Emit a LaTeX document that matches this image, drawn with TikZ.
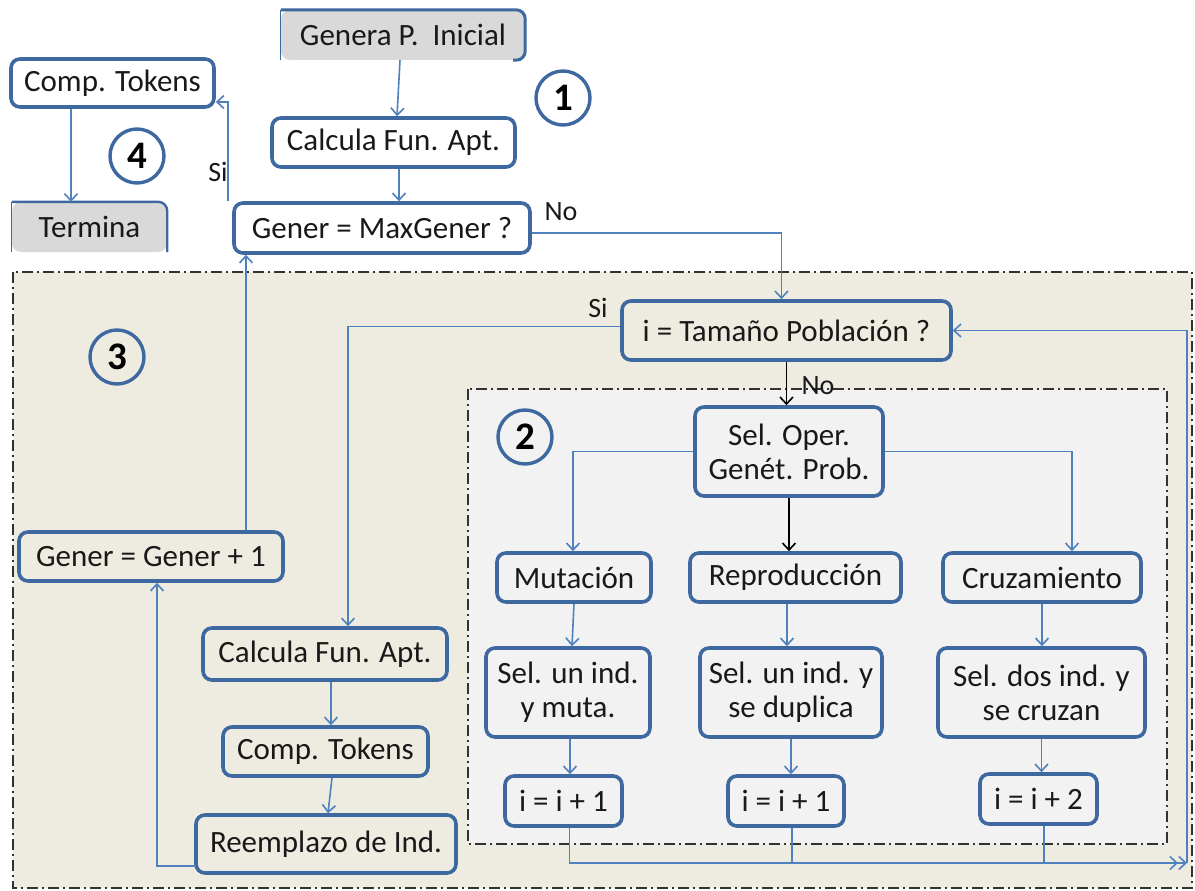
\documentclass[tikz,border=0pt]{standalone}
\usepackage{fontspec}
\setmainfont{Carlito}
\usetikzlibrary{arrows.meta}

\definecolor{boxblue}{RGB}{61,104,160}
\definecolor{lineblue}{RGB}{79,129,189}
\definecolor{tanbg}{RGB}{238,236,225}
\definecolor{innerbg}{RGB}{242,242,242}
\definecolor{startgray}{RGB}{217,217,217}
\definecolor{framegray}{RGB}{50,50,50}
\definecolor{ink}{RGB}{25,25,25}

\tikzset{
  fbox/.style={draw=boxblue, line width=3.6pt, rounded corners=9pt, inner sep=0pt,
    align=center, text=ink, font=\fontsize{31}{34}\selectfont},
  greybox/.style={fill=startgray, rounded corners=9pt, inner sep=0pt,
    align=center, text=ink, font=\fontsize{31}{34}\selectfont},
  num/.style={circle, draw=boxblue, line width=3.4pt, minimum size=54pt, inner sep=0pt,
    text=black, font=\fontsize{39}{39}\selectfont\bfseries},
  lbl/.style={inner sep=0pt, text=ink, font=\fontsize{28}{30}\selectfont},
  region/.style={draw=framegray, line width=2.4pt,
    dash pattern=on 11pt off 4pt on 2pt off 4pt},
  conn/.style={draw=lineblue, line width=1.6pt, -{Straight Barb[length=7pt,width=13pt]}},
  conndbl/.style={draw=lineblue, line width=1.6pt,
    -{Straight Barb[length=7pt,width=13pt]Straight Barb[length=7pt,width=13pt]}},
  plain/.style={draw=lineblue, line width=1.6pt},
  blk/.style={draw=black, line width=1.6pt, -{Straight Barb[length=7pt,width=13pt]}},
}

\begin{document}
\begin{tikzpicture}[x=1pt,y=-1pt]
\useasboundingbox (0,0) rectangle (1195,891);
\fill[white] (0,0) rectangle (1195,891);

% grouped areas
\draw[region, fill=tanbg] (13,272) rectangle (1192,888);
\draw[region, fill=innerbg] (468,389) rectangle (1167,844);

% step numbers
\node[num] (c1) at (563,98) {1};
\node[num] (c4) at (137,156) {4};
\node[num] (c3) at (117,357) {3};
\node[num] (c2) at (525,437) {2};

% start and end
\node[greybox, minimum width=244pt, minimum height=50pt] (gen) at (403,35) {Genera P.~\ Inicial};
\draw[boxblue, line width=1.2pt] (gen.south west) -- (gen.north west);
\draw[boxblue, line width=3pt, rounded corners=9pt]
  (gen.north west) -- (gen.north east) -- (gen.south east) -- ++(-12pt,0);
\node[greybox, minimum width=155pt, minimum height=50pt] (term) at (89.5,227) {Termina};
\draw[boxblue, line width=1.2pt] (term.south west) -- (term.north west);
\draw[boxblue, line width=2.4pt, rounded corners=9pt]
  (term.north west) -- (term.north east) -- (term.south east);

% main loop
\node[fbox, minimum width=203pt, minimum height=48pt] (ct1) at (112.5,83) {Comp. Tokens};
\node[fbox, minimum width=243pt, minimum height=49pt] (cfa1) at (393.5,142.5) {Calcula Fun. Apt.};
\node[fbox, minimum width=296pt, minimum height=50pt] (gmax) at (382,228) {Gener = MaxGener ?};
\node[fbox, minimum width=329pt, minimum height=59pt] (tam) at (786.5,330.5) {i = Tamaño Población ?};

% genetic operators
\node[fbox, minimum width=188pt, minimum height=89pt] (sop) at (789,451.5) {Sel. Oper.\\Genét. Prob.};
\node[fbox, minimum width=154pt, minimum height=49pt] (mut) at (574,577.5) {Mutación};
\node[fbox, minimum width=211pt, minimum height=49pt] (rep) at (795.5,577.5) {Reproducción};
\node[fbox, minimum width=198pt, minimum height=49pt] (cru) at (1042,577.5) {Cruzamiento};
\node[fbox, minimum width=164pt, minimum height=89pt] (s1) at (568,692.5) {Sel. un ind.\\y muta.};
\node[fbox, minimum width=182pt, minimum height=89pt] (s2) at (791,692.5) {Sel. un ind. y\\se duplica};
\node[fbox, minimum width=207pt, minimum height=89pt] (s3) at (1041.5,692.5) {Sel. dos ind. y\\se cruzan};
\node[fbox, minimum width=117pt, minimum height=50pt] (i1) at (563.5,801) {i = i + 1};
\node[fbox, minimum width=116pt, minimum height=50pt] (i2) at (786,801) {i = i + 1};
\node[fbox, minimum width=117pt, minimum height=50pt] (i3) at (1038.5,799) {i = i + 2};

% new generation
\node[fbox, minimum width=264pt, minimum height=49pt] (gp1) at (151,556.5) {Gener = Gener + 1};
\node[fbox, minimum width=244pt, minimum height=52pt] (cfa2) at (325,654) {Calcula Fun. Apt.};
\node[fbox, minimum width=205pt, minimum height=49pt] (ct2) at (325.5,751.5) {Comp. Tokens};
\node[fbox, minimum width=260pt, minimum height=58pt] (rem) at (326,844) {Reemplazo de Ind.};

% labels
\node[lbl] (no1) at (561,212) {No};
\node[lbl] (si1) at (218,172) {Si};
\node[lbl] (si2) at (598,308) {Si};
\node[lbl] (no2) at (818,386) {No};

% helper points
\coordinate (gp1up) at ([xshift=95pt]gp1.north);
\coordinate (rb) at (1187,863);
\coordinate (i1d) at ([xshift=6pt]i1.south);
\coordinate (i2d) at ([xshift=6pt]i2.south);
\coordinate (i3d) at ([xshift=5.5pt]i3.south);

% connectors
\draw[conn] ([xshift=-3pt]gen.south) -- ([xshift=3.5pt]cfa1.north);
\draw[conn] ([xshift=5.5pt]cfa1.south) -- ([xshift=17pt]gmax.north);
\draw[conn] ([yshift=-5pt]gmax.east) -| ([xshift=-5pt]tam.north);
\draw[conn] ([xshift=-4pt]gmax.north west) |- ([yshift=-19pt]ct1.east);
\draw[conn] ([xshift=-41.5pt]ct1.south) -- ([xshift=-18.5pt]term.north);
\draw[conn] (gp1up) -- (gp1up |- gmax.south);

\draw[conn] ([yshift=4pt]tam.west) -| ([xshift=23pt]cfa2.north);
\draw[blk] (tam.south) -- (tam.south |- sop.north);
\draw[conn] (sop.west) -| ([xshift=-1pt]mut.north);
\draw[blk] (sop.south) -- (sop.south |- rep.north);
\draw[conn] (sop.east) -| ([xshift=30pt]cru.north);

\draw[conn] (mut.south) -- ([xshift=4pt]s1.north);
\draw[conn] ([xshift=-8.5pt]rep.south) -- ([xshift=-4pt]s2.north);
\draw[conn] (cru.south) -- (cru.south |- s3.north);
\draw[conn] ([xshift=2pt]s1.south) -- ([xshift=6.5pt]i1.north);
\draw[conn] (s2.south) -- (s2.south |- i2.north);
\draw[conn] (s3.south) -- (s3.south |- i3.north);

\draw[conndbl] (i1d) |- (rb);
\draw[plain] (i2d) -- (i2d |- rb);
\draw[plain] (i3d) -- (i3d |- rb);
\draw[conn] (rb) |- (tam.east);

\draw[conn] ([xshift=6pt]cfa2.south) -- ([xshift=5.5pt]ct2.north);
\draw[conn] ([xshift=6.5pt]ct2.south) -- ([xshift=2pt]rem.north);
\draw[conn] ([yshift=-22pt,xshift=2pt]rem.west) -| ([xshift=6pt]gp1.south);
\end{tikzpicture}
\end{document}
